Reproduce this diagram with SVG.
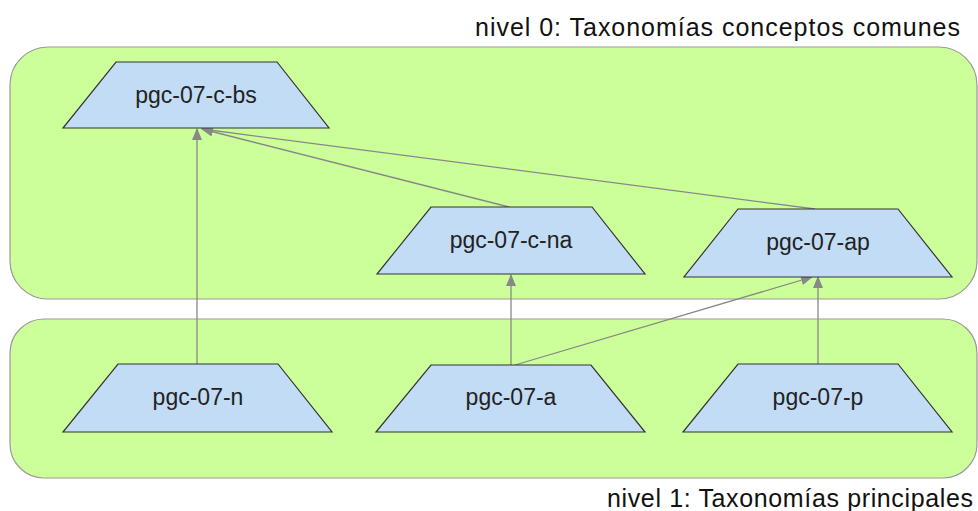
<svg xmlns="http://www.w3.org/2000/svg" width="978" height="511" viewBox="0 0 978 511">
<defs>
<marker id="arr" markerWidth="12" markerHeight="10" refX="11" refY="5" orient="auto" markerUnits="userSpaceOnUse">
<path d="M0,0 L12,5 L0,10 z" fill="#888888"/>
</marker>
<style>
.grp{fill:#ccff99;stroke:#999999;stroke-width:1.2}
.node{fill:#c2dcf6;stroke:#333333;stroke-width:1.2}
.nt{font-family:"Liberation Sans",Arial,sans-serif;font-size:23px;fill:#222222;text-anchor:middle}
.lbl{font-family:"Liberation Sans",Arial,sans-serif;font-size:25px;fill:#111111}
.edge{fill:none;stroke:#888888;stroke-width:1.3;marker-end:url(#arr)}
</style>
</defs>
<rect width="978" height="511" fill="#ffffff"/>
<g id="nivel0">
<rect class="grp" x="10" y="47" width="967" height="252" rx="38" ry="38"/>
<text class="lbl" x="475" y="36" textLength="485" lengthAdjust="spacing">nivel 0: Taxonomías conceptos comunes</text>
</g>
<g id="nivel1">
<rect class="grp" x="10" y="319" width="967" height="159" rx="34" ry="34"/>
<text class="lbl" x="607" y="507" textLength="366" lengthAdjust="spacing">nivel 1: Taxonomías principales</text>
</g>
<g id="connectors">
<line class="edge" x1="197" y1="364" x2="197" y2="129"/>
<line class="edge" x1="509" y1="207" x2="202" y2="129"/>
<line class="edge" x1="815" y1="209" x2="202" y2="129"/>
<line class="edge" x1="511" y1="365" x2="511" y2="275"/>
<line class="edge" x1="515" y1="365" x2="812" y2="277"/>
<line class="edge" x1="818" y1="364" x2="818" y2="277"/>
</g>
<g id="pgc-07-c-bs">
<polygon class="node" points="116,62 277,62 329,128 63,128"/>
<text class="nt" x="196" y="103">pgc-07-c-bs</text>
</g>
<g id="pgc-07-c-na">
<polygon class="node" points="431,207 592,207 645,274 377,274"/>
<text class="nt" x="511" y="248">pgc-07-c-na</text>
</g>
<g id="pgc-07-ap">
<polygon class="node" points="738,209 898,209 952,277 684,277"/>
<text class="nt" x="818" y="250">pgc-07-ap</text>
</g>
<g id="pgc-07-n">
<polygon class="node" points="118,364 278,364 332,432 63,432"/>
<text class="nt" x="198" y="405">pgc-07-n</text>
</g>
<g id="pgc-07-a">
<polygon class="node" points="431,365 591,365 645,432 376,432"/>
<text class="nt" x="511" y="405">pgc-07-a</text>
</g>
<g id="pgc-07-p">
<polygon class="node" points="738,364 898,364 952,432 683,432"/>
<text class="nt" x="818" y="405">pgc-07-p</text>
</g>
</svg>
